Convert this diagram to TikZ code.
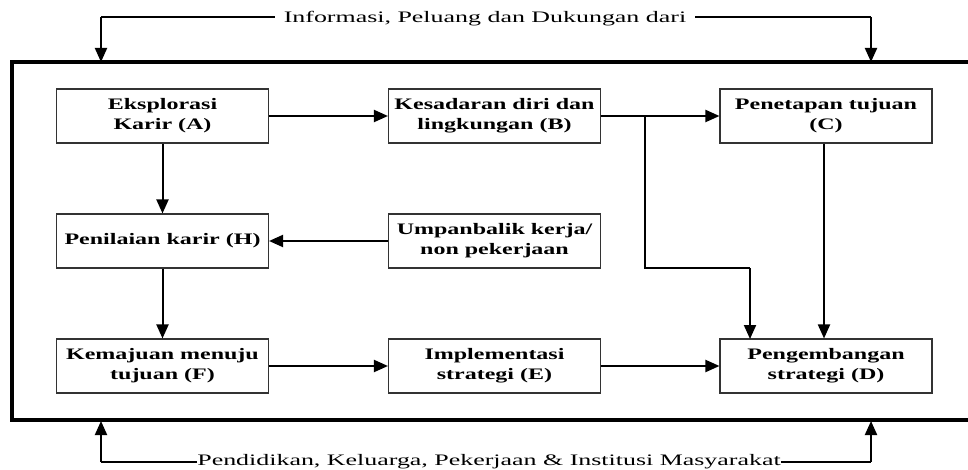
\documentclass[tikz,border=0pt]{standalone}
\usepackage{fontspec}
\setmainfont{Liberation Serif}
\newfontfamily\boxfont[FakeStretch=1.5]{Liberation Serif}
\newfontfamily\labelfont[FakeStretch=1.62]{Liberation Serif}
\usetikzlibrary{arrows.meta}
\begin{document}
\begin{tikzpicture}[x=1pt,y=-1pt,
  stepbox/.style={draw=black!80,line width=1.1pt,minimum width=212pt,minimum height=54pt,
    inner sep=0pt,align=center,font=\boxfont\bfseries\fontsize{16}{20}\selectfont},
  flow/.style={line width=2pt,-{Triangle[length=14pt,width=12pt]}},
  link/.style={line width=1.8pt},
  side/.style={font=\labelfont\fontsize{16}{20}\selectfont,anchor=base}]
\useasboundingbox (0,0) rectangle (968,470);
\fill[white] (0,0) rectangle (968,470);

% outer frame (its right side runs past the page edge)
\draw[line width=4pt] (990,62) -- (12,62) -- (12,420) -- (990,420);

% process boxes
\node[stepbox] (A) at (162.5,116) {Eksplorasi\\Karir (A)};
\node[stepbox] (B) at (494.5,116) {Kesadaran diri dan\\lingkungan (B)};
\node[stepbox] (C) at (826,116) {Penetapan tujuan\\(C)};
\node[stepbox] (H) at (162.5,241) {Penilaian karir (H)};
\node[stepbox] (U) at (494.5,241) {Umpanbalik kerja/\\non pekerjaan};
\node[stepbox] (F) at (162.5,366) {Kemajuan menuju\\tujuan (F)};
\node[stepbox] (E) at (494.5,366) {Implementasi\\strategi (E)};
\node[stepbox] (D) at (826,366) {Pengembangan\\strategi (D)};

% connectors between boxes
\draw[flow] (A.east) -- (B.west);
\draw[flow] (B.east) -- (C.west);
\coordinate (br) at (645,116);
\coordinate (bk1) at (645,268);
\coordinate (bk2) at (750,268);
\draw[link] (br) -- (bk1) -- (bk2);
\draw[flow] (bk2) -- (750,339);
\draw[flow] (C.south -| 824,0) -- (D.north -| 824,0);
\draw[flow] (A.south) -- (H.north);
\draw[flow] (U.west) -- (H.east);
\draw[flow] (H.south) -- (F.north);
\draw[flow] (F.east) -- (E.west);
\draw[flow] (E.east) -- (D.west);

% outside influences
\node[side,inner sep=9pt] (top) at (485,23) {Informasi, Peluang dan Dukungan dari};
\coordinate (tl) at (101,17);
\coordinate (tr) at (871,17);
\draw[link] (top.west |- tl) -- (tl);
\draw[link] (top.east |- tr) -- (tr);
\draw[flow] (tl) -- (101,62);
\draw[flow] (tr) -- (871,62);

\node[side,inner sep=0pt] (bot) at (489,465.5) {Pendidikan, Keluarga, Pekerjaan \& Institusi Masyarakat};
\coordinate (bl) at (101,462);
\coordinate (brr) at (871,462);
\draw[link] (bot.west |- bl) -- (bl);
\draw[link] (bot.east |- brr) -- (brr);
\draw[flow] (bl) -- (101,421);
\draw[flow] (brr) -- (871,421);
\end{tikzpicture}
\end{document}
